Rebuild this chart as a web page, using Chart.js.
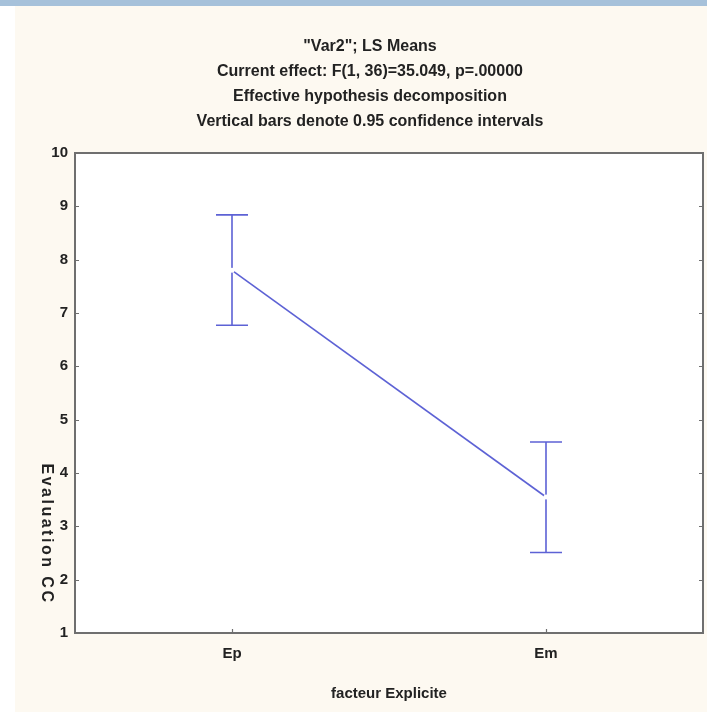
<!DOCTYPE html>
<html>
<head>
<meta charset="utf-8">
<title>LS Means – Evaluation CC</title>
<script src="https://cdn.jsdelivr.net/npm/chart.js@4/dist/chart.umd.min.js"></script>
<style>
  html, body { margin: 0; padding: 0; background: #ffffff; overflow: hidden; }
  canvas { display: block; }
</style>
</head>
<body>
<canvas id="chart" width="707" height="712"></canvas>
<script>
// ---- data ----
const categories = ['Ep', 'Em'];
const lsMeans = [7.80, 3.55];
const ciUpper = [8.84, 4.58];
const ciLower = [6.77, 2.51];
const yTickValues = [1, 2, 3, 4, 5, 6, 7, 8, 9, 10];
const titleLines = [
  '"Var2"; LS Means',
  'Current effect: F(1, 36)=35.049, p=.00000',
  'Effective hypothesis decomposition',
  'Vertical bars denote 0.95 confidence intervals'
];
const xAxisTitle = 'facteur Explicite';
const yAxisTitle = 'Evaluation CC';

// ---- styles ----
const NARROW = "'Liberation Sans Narrow', 'Arial Narrow', 'Liberation Sans', Arial, sans-serif";
const SERIES_COLOR = '#5d62d5';
const FRAME_COLOR = '#6f6f6f';
const TEXT_COLOR = '#222222';

// page backdrop: blue band, white margin, cream panel, white plot area
const backdrop = {
  id: 'backdrop',
  beforeDraw(chart) {
    const { ctx, width, height, chartArea: a } = chart;
    ctx.save();
    ctx.fillStyle = '#ffffff';
    ctx.fillRect(0, 0, width, height);
    ctx.fillStyle = '#fdf9f1';
    ctx.fillRect(15, 6, width - 15, height - 6);
    ctx.fillStyle = '#a6c1da';
    ctx.fillRect(0, 0, width, 6);
    ctx.fillStyle = '#ffffff';
    ctx.fillRect(a.left, a.top, a.right - a.left, a.bottom - a.top);
    ctx.restore();
  }
};

// vertical confidence-interval whiskers with caps
const whiskers = {
  id: 'whiskers',
  beforeDatasetsDraw(chart) {
    const { ctx, scales: { x, y } } = chart;
    const cap = 16;
    ctx.save();
    ctx.strokeStyle = SERIES_COLOR;
    ctx.lineWidth = 1.6;
    categories.forEach((c, i) => {
      const px = x.getPixelForValue(i);
      const top = y.getPixelForValue(ciUpper[i]);
      const bot = y.getPixelForValue(ciLower[i]);
      ctx.beginPath();
      ctx.moveTo(px, top); ctx.lineTo(px, bot);
      ctx.moveTo(px - cap, top); ctx.lineTo(px + cap, top);
      ctx.moveTo(px - cap, bot); ctx.lineTo(px + cap, bot);
      ctx.stroke();
    });
    ctx.restore();
  }
};

// plot frame with inward tick marks, and the rotated y-axis title
const frame = {
  id: 'frame',
  afterDraw(chart) {
    const { ctx, chartArea: a, scales: { x, y } } = chart;
    const t = 4;
    ctx.save();
    ctx.strokeStyle = FRAME_COLOR;
    ctx.lineWidth = 2;
    ctx.strokeRect(a.left, a.top, a.right - a.left, a.bottom - a.top);
    ctx.lineWidth = 1.2;
    ctx.beginPath();
    yTickValues.forEach(v => {
      const py = Math.round(y.getPixelForValue(v)) + 0.5;
      ctx.moveTo(a.left, py); ctx.lineTo(a.left + t, py);
      ctx.moveTo(a.right, py); ctx.lineTo(a.right - t, py);
    });
    categories.forEach((c, i) => {
      const px = Math.round(x.getPixelForValue(i)) + 0.5;
      ctx.moveTo(px, a.bottom); ctx.lineTo(px, a.bottom - t);
    });
    ctx.stroke();

    ctx.translate(46, 534);
    ctx.rotate(Math.PI / 2);
    ctx.fillStyle = TEXT_COLOR;
    ctx.font = "bold 16px 'Liberation Sans', Arial, sans-serif";
    if ('letterSpacing' in ctx) ctx.letterSpacing = '2.5px';
    ctx.textAlign = 'center';
    ctx.textBaseline = 'middle';
    ctx.fillText(yAxisTitle, 0, 0);
    ctx.restore();
  }
};

new Chart(document.getElementById('chart'), {
  type: 'line',
  data: {
    labels: categories,
    datasets: [{
      label: 'LS Means',
      data: lsMeans,
      borderColor: SERIES_COLOR,
      borderWidth: 1.6,
      pointRadius: 2.5,
      pointBackgroundColor: '#ffffff',
      pointBorderColor: '#ffffff',
      pointBorderWidth: 0,
      tension: 0,
      fill: false
    }]
  },
  options: {
    responsive: false,
    animation: false,
    layout: { padding: { left: 37, right: 4, top: 0, bottom: 0 } },
    plugins: {
      legend: { display: false },
      tooltip: { enabled: false },
      title: {
        display: true,
        text: titleLines,
        color: TEXT_COLOR,
        font: { family: NARROW, size: 16, weight: 'bold', lineHeight: 25 / 16 },
        padding: { top: 34.5, bottom: 18.5 }
      }
    },
    scales: {
      x: {
        type: 'category',
        offset: true,
        grid: { display: false, drawTicks: false },
        border: { display: false },
        ticks: { color: TEXT_COLOR, padding: 12, font: { family: NARROW, size: 15, weight: 'bold' } },
        title: {
          display: true,
          text: xAxisTitle,
          color: TEXT_COLOR,
          font: { family: NARROW, size: 15, weight: 'bold' },
          padding: { top: 0, bottom: 9 }
        },
        afterFit(scale) { scale.height = 79; }
      },
      y: {
        min: 1,
        max: 10,
        grid: { display: false, drawTicks: false },
        border: { display: false },
        ticks: {
          stepSize: 1,
          padding: 7,
          color: TEXT_COLOR,
          font: { family: NARROW, size: 15, weight: 'bold' }
        },
        afterFit(scale) { scale.width = 38; }
      }
    }
  },
  plugins: [backdrop, whiskers, frame]
});
</script>
</body>
</html>
